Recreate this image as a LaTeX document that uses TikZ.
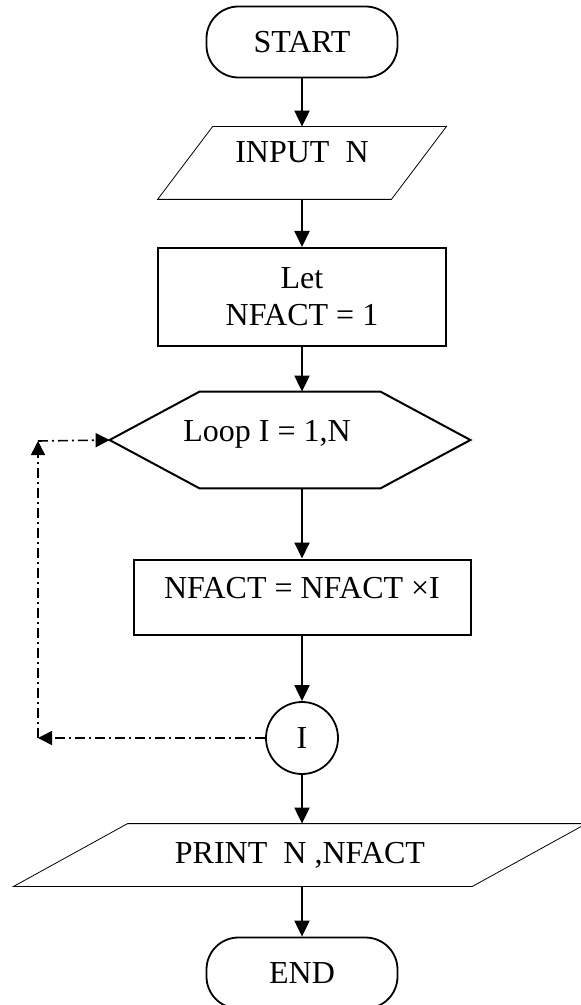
\documentclass[tikz,border=0pt]{standalone}
\usepackage{fontspec}
\setmainfont{Liberation Serif}
\usepackage{tikz}
\usetikzlibrary{calc,arrows.meta}

\tikzset{
	term/.style={draw, line width=0.9pt, rounded corners=16pt, minimum width=95.5pt, minimum height=35.5pt},
	proc/.style={draw, line width=1pt, rectangle},
	conn/.style={draw, line width=0.9pt, circle, minimum size=36pt, inner sep=0pt},
	frame/.style={rectangle, inner sep=0pt},
	flow/.style={-{Triangle[length=8pt,width=7.5pt]}, line width=1pt},
	back/.style={-{Triangle[length=7pt,width=7pt]}, line width=0.8pt, dash pattern=on 5pt off 2pt on 1pt off 2pt},
}

\begin{document}
\begin{tikzpicture}[x=0.5pt, y=-0.5pt, font=\fontsize{16}{18.5}\selectfont]
		\useasboundingbox (0,0) rectangle (581,1005);

		\draw (302, 42)  node[term] (start)  {START};
		\draw (302, 163) node[frame, minimum width=144pt, minimum height=36pt, text depth=11pt] (input) {INPUT~~N};
		\draw (input.south west) -- ([xshift=-27.5pt]input.south east) -- (input.north east) -- ([xshift=27.5pt]input.north west) -- cycle;
		\draw (302, 297) node[proc, minimum width=144pt, minimum height=49pt, align=center] (letbox) {Let\\NFACT = 1};

		\draw (290, 440) node[frame, minimum width=180pt, minimum height=48pt] (loop) {};
		\draw[line width=1pt] (loop.west) -- ([xshift=45pt]loop.north west) -- ([xshift=-45pt]loop.north east) -- (loop.east) -- ([xshift=-45pt]loop.south east) -- ([xshift=45pt]loop.south west) -- cycle;
		\draw (267, 434) node (looptext) {Loop I = 1,N};

		\draw (302, 597) node[proc, minimum width=168.5pt, minimum height=37.5pt, text depth=9.5pt] (calc) {NFACT = NFACT ×I};
		\draw (302, 738) node[conn] (joint)  {I};
		\draw (300, 855) node[frame, minimum width=286pt, minimum height=31pt] (print) {PRINT~~N ,NFACT};
		\draw (print.south west) -- ([xshift=-57pt]print.south east) -- (print.north east) -- ([xshift=57pt]print.north west) -- cycle;
		\draw (302, 973) node[term] (stop)   {END};

		\draw[flow] (start) -- (start |- input.north);
		\draw[flow] (input.south -| letbox) -- (letbox);
		\draw[flow] (letbox) -- (letbox |- loop.north);
		\draw[flow] (letbox |- loop.south) -- (calc);
		\draw[flow] (calc) -- (joint);
		\draw[flow] (joint) -- (joint |- print.north);
		\draw[flow] (joint |- print.south) -- (stop);

		\coordinate (low)  at (38, 738);
		\coordinate (high) at (38, 441);
		\draw[back] (joint.west) -- (low);
		\draw[back] (low) -- (high);
		\draw[back] (high) -- (loop.west);

	\end{tikzpicture}
\end{document}
